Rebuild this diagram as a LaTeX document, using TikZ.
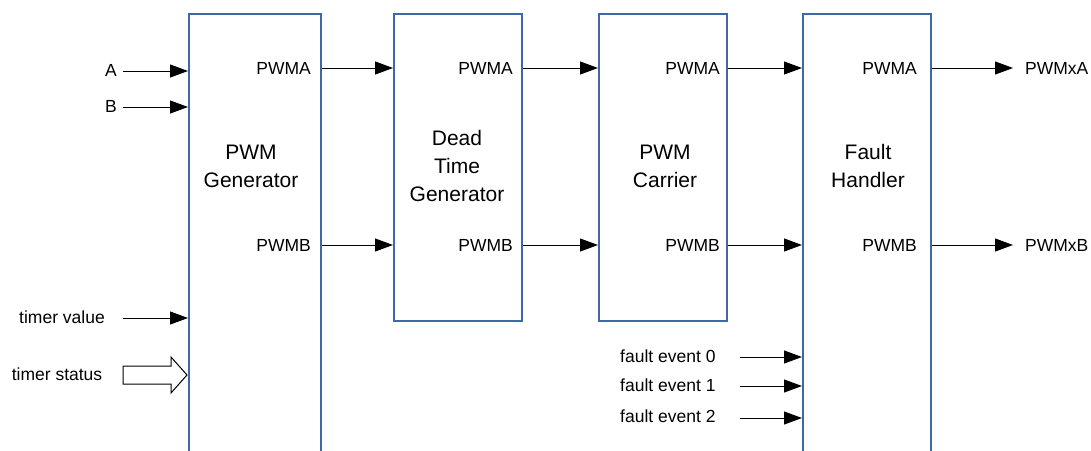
\documentclass[tikz,border=0pt]{standalone}
\usepackage{fontspec}
\setmainfont{Liberation Sans}
\usetikzlibrary{arrows.meta}
\definecolor{boxblue}{HTML}{3E68A6}
\tikzset{
  blk/.style={draw=boxblue, line width=1.6pt, fill=white, rectangle, anchor=north west, inner sep=0pt},
  ttl/.style={font=\fontsize{21}{28}\selectfont, align=center, inner sep=0pt},
  lbl/.style={font=\fontsize{17.5}{21}\selectfont, inner sep=0pt},
  arr/.style={draw=black, line width=1pt, -{Triangle[length=18pt,width=13pt]}},
  hollow/.style={draw=black, line width=1pt, fill=white}
}
\begin{document}
\begin{tikzpicture}[x=1pt,y=-1pt]
\useasboundingbox (0,0) rectangle (1091,450);
\clip (0,0) rectangle (1091,450);
% blocks
\node[blk, minimum width=132pt, minimum height=460pt] (gen) at (188,13) {};
\node[blk, minimum width=128pt, minimum height=307pt] (dt)  at (393,13) {};
\node[blk, minimum width=128pt, minimum height=307pt] (car) at (598,13) {};
\node[blk, minimum width=128pt, minimum height=460pt] (fh)  at (802,13) {};
% titles
\node[ttl] (tgen) at (251,166) {PWM\\Generator};
\node[ttl] (tdt)  at (457,166) {Dead\\Time\\Generator};
\node[ttl] (tcar) at (665,166) {PWM\\Carrier};
\node[ttl] (tfh)  at (868,166) {Fault\\Handler};
% port labels
\node[lbl, anchor=east] (gA) at (311,68) {PWMA};
\node[lbl, anchor=east] (gB) at (311,245) {PWMB};
\node[lbl, anchor=east] (dA) at (513,68) {PWMA};
\node[lbl, anchor=east] (dB) at (513,245) {PWMB};
\node[lbl, anchor=east] (cA) at (720,68) {PWMA};
\node[lbl, anchor=east] (cB) at (720,245) {PWMB};
\node[lbl, anchor=east] (fA) at (917,68) {PWMA};
\node[lbl, anchor=east] (fB) at (917,245) {PWMB};
% inter-block connectors
\draw[arr] (gen.east |- gA) -- (dt.west |- gA);
\draw[arr] (gen.east |- gB) -- (dt.west |- gB);
\draw[arr] (dt.east |- dA) -- (car.west |- dA);
\draw[arr] (dt.east |- dB) -- (car.west |- dB);
\draw[arr] (car.east |- cA) -- (fh.west |- cA);
\draw[arr] (car.east |- cB) -- (fh.west |- cB);
% outputs
\node[lbl, anchor=west] (oA) at (1025,68) {PWMxA};
\node[lbl, anchor=west] (oB) at (1025,245) {PWMxB};
\draw[arr] (fh.east |- oA) -- ([xshift=-12pt]oA.west);
\draw[arr] (fh.east |- oB) -- ([xshift=-12pt]oB.west);
% inputs to generator
\node[lbl, anchor=east] (inA) at (117,70) {A};
\node[lbl, anchor=east] (inB) at (117,106) {B};
\node[lbl] (tv) at (62,317) {timer value};
\node[lbl] (ts) at (57,374) {timer status};
\coordinate (sA) at (123,71);
\coordinate (sB) at (123,107);
\coordinate (sV) at (123,318);
\draw[arr] (sA) -- (gen.west |- sA);
\draw[arr] (sB) -- (gen.west |- sB);
\draw[arr] (sV) -- (gen.west |- sV);
% timer status block arrow
\draw[hollow] (123,366) -- (171,366) -- (171,357) -- (187,375) -- (171,393) -- (171,384) -- (123,384) -- cycle;
% fault events
\node[lbl, anchor=west] (f0) at (620,356) {fault event 0};
\node[lbl, anchor=west] (f1) at (620,385) {fault event 1};
\node[lbl, anchor=west] (f2) at (620,416) {fault event 2};
\coordinate (e0) at (740,357);
\coordinate (e1) at (740,386);
\coordinate (e2) at (740,418);
\draw[arr] (e0) -- (fh.west |- e0);
\draw[arr] (e1) -- (fh.west |- e1);
\draw[arr] (e2) -- (fh.west |- e2);
\end{tikzpicture}
\end{document}
